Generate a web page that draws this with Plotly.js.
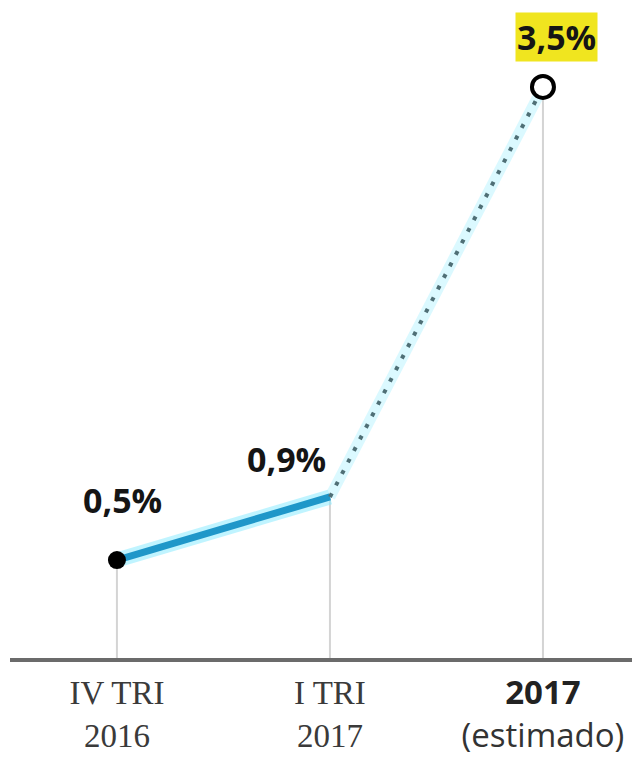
<!DOCTYPE html>
<html>
<head>
<meta charset="utf-8">
<script src="https://cdn.plot.ly/plotly-3.0.1.min.js"></script>
<style>html,body{margin:0;padding:0;background:#fff;}#chart{width:642px;height:762px;}</style>
</head>
<body>
<div id="chart"></div>
<script>
// ---- data ----
const categories = ['IV TRI 2016', 'I TRI 2017', '2017 (estimado)'];
const tickLabels = [
  'IV TRI<br>2016',
  'I TRI<br>2017',
  '<span style="font-family:\'Open Sans\';font-weight:bold;color:#222">2017</span><br><span style="font-family:\'Open Sans\';color:#333">(estimado)</span>'
];
const values = [0.5, 0.9, 3.5];
const valueLabels = ['0,5%', '0,9%', '3,5%'];
const estimatedFromIndex = 1; // dotted (estimated) segment starts at this point

// ---- build traces ----
const yMin = -0.121, yMax = 4.051;
const solidY = values.map((v, i) => i <= estimatedFromIndex ? v : null);
const dottedY = values.map((v, i) => i >= estimatedFromIndex ? v : null);

const traces = [
  {x: categories, y: solidY, mode: 'lines', line: {color: 'rgba(140,235,255,0.55)', width: 15}, hoverinfo: 'skip', connectgaps: false},
  {x: categories, y: dottedY, mode: 'lines', line: {color: 'rgba(195,245,255,0.6)', width: 11}, hoverinfo: 'skip', connectgaps: false},
  {x: categories, y: solidY, mode: 'lines', line: {color: '#1f97c9', width: 7}, hoverinfo: 'skip', connectgaps: false},
  {x: categories, y: dottedY, mode: 'lines', line: {color: '#4f6f76', width: 4, dash: '4px,9px'}, hoverinfo: 'skip', connectgaps: false},
  {x: categories, y: values, mode: 'markers', hoverinfo: 'skip', opacity: 1,
   marker: {size: [18, 0, 22], opacity: 1, color: ['#000000', 'rgba(0,0,0,0)', '#ffffff'],
            line: {width: [0, 0, 4], color: '#000000'}}}
];

const shapes = categories.map((c, i) => ({
  type: 'line', xref: 'x', yref: 'y', x0: c, x1: c, y0: values[i], y1: yMin,
  line: {color: '#d4d4d4', width: 2}, layer: 'below'
}));

const labelFont = {family: 'Open Sans, DejaVu Sans, sans-serif', size: 34, color: '#151515', weight: 700};
const labelOffsets = [[6, 60], [-43, 38], [14, 50]];
const annotations = categories.map((c, i) => ({
  x: c, y: values[i], xref: 'x', yref: 'y', text: '<b>' + valueLabels[i] + '</b>',
  showarrow: false, xshift: labelOffsets[i][0], yshift: labelOffsets[i][1],
  font: labelFont, bgcolor: i === categories.length - 1 ? '#f0e51f' : 'rgba(0,0,0,0)', borderpad: 1
}));

const layout = {
  width: 642, height: 762,
  margin: {l: 10, r: 10, t: 0, b: 104},
  paper_bgcolor: '#ffffff', plot_bgcolor: '#ffffff',
  showlegend: false,
  xaxis: {
    type: 'category', range: [-0.502, 2.418],
    showline: true, linecolor: '#6b6b6b', linewidth: 4,
    showgrid: false, zeroline: false, ticks: '',
    tickvals: categories, ticktext: tickLabels,
    tickfont: {family: 'Liberation Serif, serif', size: 33, color: '#3a3a3a'},
    ticklabelstandoff: 2
  },
  yaxis: {range: [yMin, yMax], visible: false, showgrid: false, zeroline: false},
  shapes: shapes,
  annotations: annotations
};

Plotly.newPlot('chart', traces, layout, {displayModeBar: false, staticPlot: true});
</script>
</body>
</html>
